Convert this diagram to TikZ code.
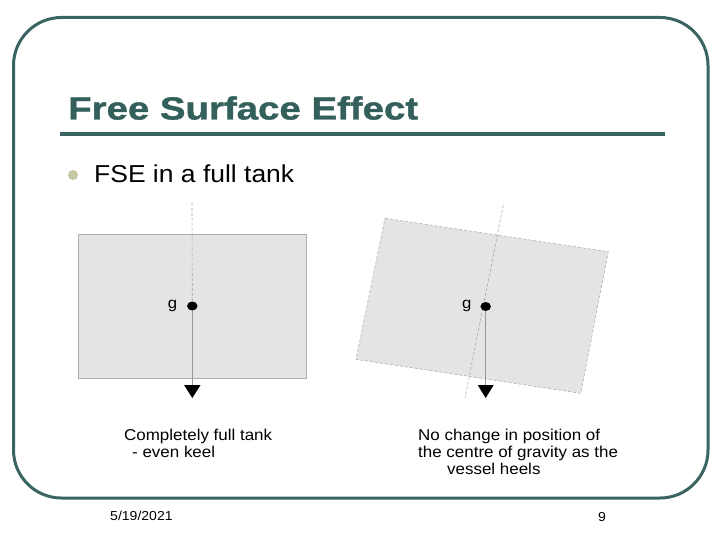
\documentclass[tikz,border=0pt]{standalone}
\usepackage{fontspec}
\setmainfont[FakeStretch=1.08]{Liberation Sans}
\newfontfamily\titlefont[FakeBold=1.2,FakeStretch=1.2]{Liberation Sans Bold}
\usetikzlibrary{shapes.geometric}
\definecolor{frame}{RGB}{58,100,98}
\definecolor{titlec}{RGB}{52,96,92}
\definecolor{tankfill}{RGB}{228,228,228}
\definecolor{tankline}{RGB}{175,175,175}
\definecolor{bulletc}{RGB}{200,200,160}
\begin{document}
\begin{tikzpicture}[x=1pt,y=-1pt,
  tank/.style={fill=tankfill,draw=tankline,line width=0.6pt},
  axis/.style={draw=gray!70,line width=0.6pt,dash pattern=on 3pt off 2pt},
  plumb/.style={draw=gray!80,line width=0.7pt},
  cg/.style={ellipse,fill=black,inner sep=0pt,minimum width=10.5pt,minimum height=9pt},
  tip/.style={fill=black},
  glabel/.style={anchor=base,font=\fontsize{15.5}{17}\selectfont,inner sep=0pt},
  captext/.style={font=\fontsize{15.7}{17.5}\selectfont,anchor=base west,inner sep=0pt}]
\path[use as bounding box] (0,0) rectangle (720,540);
% frame
\draw[frame,line width=3pt,rounded corners=48pt] (13.5,17.5) rectangle (708,498);
% title
\node[anchor=base west,inner sep=0pt,text=titlec,font=\fontsize{32}{36}\selectfont\titlefont] (title) at (68,119.5) {Free Surface Effect};
\draw[frame,line width=4pt] (60,134) -- (665,134);
% bullet
\fill[bulletc] (73,175) circle (5);
\node[anchor=base west,inner sep=0pt,font=\fontsize{24.5}{28}\selectfont] (b1) at (94,183) {FSE in a full tank};
% left tank
\draw[tank] (78,234) rectangle (306,378);
\coordinate (l0) at (192,203);
\coordinate (gc1) at (192.3,306);
\coordinate (la) at (192.3,385);
\draw[axis] (l0) -- (gc1);
\draw[plumb] (gc1) -- (la);
\fill[tip] (184,385) -- (200.6,385) -- (192.3,398) -- cycle;
\node[cg] (g1) at (gc1) {};
\node[glabel] (gl1) at (172.5,308) {g};
% right tank
\draw[tank,dash pattern=on 3pt off 2pt] (385,218.3) -- (608.3,251.7) -- (580.7,393.3) -- (356,359.3) -- cycle;
\coordinate (r0) at (503.3,205);
\coordinate (r1) at (465,398);
\draw[axis] (r0) -- (r1);
\coordinate (gc2) at (485.7,306.5);
\coordinate (ra) at (485.7,385);
\draw[plumb] (gc2) -- (ra);
\fill[tip] (477.7,385) -- (493.7,385) -- (485.7,398) -- cycle;
\node[cg] (g2) at (gc2) {};
\node[glabel] (gl2) at (466.7,308) {g};
% captions
\node[captext] (c1) at (124,440) {Completely full tank};
\node[captext] (c2) at (132,457) {- even keel};
\node[captext] (c3) at (418,440) {No change in position of};
\node[captext] (c4) at (418,457) {the centre of gravity as the};
\node[captext] (c5) at (447,474) {vessel heels};
% footer
\node[anchor=base west,inner sep=0pt,font=\fontsize{13}{15}\selectfont] (date) at (110,520) {5/19/2021};
\node[anchor=base west,inner sep=0pt,font=\fontsize{13}{15}\selectfont] (pg) at (598,521) {9};
\end{tikzpicture}
\end{document}
